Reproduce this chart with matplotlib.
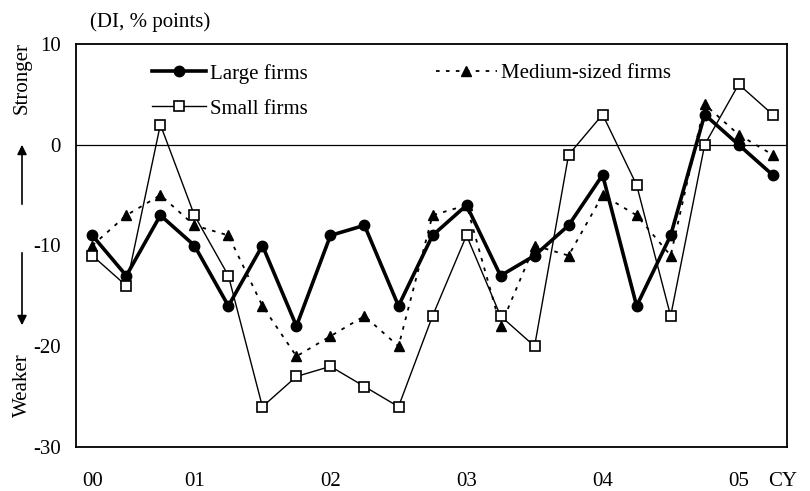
import matplotlib
matplotlib.use("Agg")
import matplotlib.pyplot as plt

# quarterly DI, % points
large = [-9, -13, -7, -10, -16, -10, -18, -9, -8, -16, -9,
         -6, -13, -11, -8, -3, -16, -9, 3, 0, -3]
medium = [-10, -7, -5, -8, -9, -16, -21, -19, -17, -20, -7,
          -6, -18, -10, -11, -5, -7, -11, 4, 1, -1]
small = [-11, -14, 2, -7, -13, -26, -23, -22, -24, -26, -17,
         -9, -17, -20, -1, 3, -4, -17, 0, 6, 3]
year_pos = [0, 3, 7, 11, 15, 19]
year_labels = ["00", "01", "02", "03", "04", "05"]
y_ticks = [-30, -20, -10, 0, 10]

plt.rcParams['font.family'] = ['Liberation Serif', 'DejaVu Serif']
plt.rcParams['axes.unicode_minus'] = False
fs = 15

fig = plt.figure(figsize=(8.1, 4.91), dpi=100)
ax = fig.add_axes([76 / 810, 1 - 447 / 491, 711 / 810, 403 / 491])

x = list(range(len(large)))
ax.axhline(0, color='black', lw=0.9)
l1, = ax.plot(x, large, color='black', lw=2.6, marker='o', ms=7.5,
              label='Large firms')
l2, = ax.plot(x, medium, color='black', lw=1.3, ls=(0, (2, 3.5)),
              marker='^', ms=7, label='Medium-sized firms')
l3, = ax.plot(x, small, color='black', lw=1.0, marker='s', ms=7.5,
              mfc='white', mew=1.2, label='Small firms')

ax.set_xlim(-0.48, 20.42)
ax.set_ylim(-30, 10)
ax.set_yticks(y_ticks)
ax.set_xticks(year_pos)
ax.set_xticklabels(year_labels)
ax.tick_params(length=0, labelsize=fs)
ax.tick_params(axis='y', pad=11)
ax.tick_params(axis='x', pad=18)
for s in ax.spines.values():
    s.set_linewidth(1.3)

leg1 = ax.legend(handles=[l1, l3], loc='upper left',
                 bbox_to_anchor=(0.095, 0.972), frameon=False,
                 fontsize=fs, handlelength=2.6, handletextpad=0.2,
                 labelspacing=0.75, borderaxespad=0)
ax.add_artist(leg1)
ax.legend(handles=[l2], loc='upper left', bbox_to_anchor=(0.495, 0.972),
          frameon=False, fontsize=fs, handlelength=2.9,
          handletextpad=0.2, borderaxespad=0)

fig.text(90 / 810, 1 - 22 / 491, '(DI, % points)', fontsize=fs,
         ha='left', va='center')
fig.text(783 / 810, 1 - 481 / 491, 'CY', fontsize=fs,
         ha='center', va='center')
fig.text(22 / 810, 1 - 78 / 491, 'Stronger', fontsize=fs, rotation=90,
         ha='center', va='center')
fig.text(22 / 810, 1 - 385 / 491, 'Weaker', fontsize=fs, rotation=90,
         ha='center', va='center')
arr = dict(arrowstyle='-|>', color='black', lw=1.2, mutation_scale=14)
fig.add_artist(matplotlib.patches.FancyArrowPatch(
    (22 / 810, 1 - 207 / 491), (22 / 810, 1 - 142 / 491),
    transform=fig.transFigure, **arr))
fig.add_artist(matplotlib.patches.FancyArrowPatch(
    (22 / 810, 1 - 250 / 491), (22 / 810, 1 - 328 / 491),
    transform=fig.transFigure, **arr))

fig.savefig('out.png', dpi=100)
